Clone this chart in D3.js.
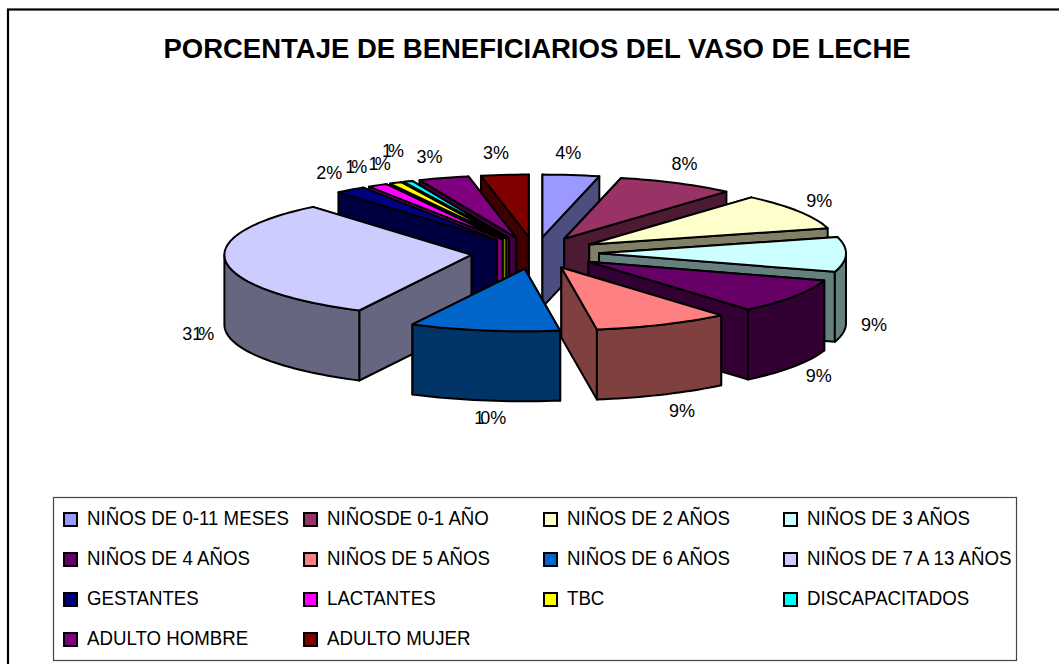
<!DOCTYPE html>
<html><head><meta charset="utf-8">
<script src="https://cdn.jsdelivr.net/npm/d3@7/dist/d3.min.js"></script>
<style>html,body{margin:0;padding:0;background:#fff;overflow:hidden}svg{display:block}text{font-family:"Liberation Sans",Arial,sans-serif;fill:#000}</style>
</head><body><svg id="c" width="1059" height="664"></svg>
<script>
const categories=["NIÑOS DE 0-11 MESES","NIÑOSDE 0-1 AÑO","NIÑOS DE 2 AÑOS","NIÑOS DE 3 AÑOS","NIÑOS DE 4 AÑOS","NIÑOS DE 5 AÑOS","NIÑOS DE 6 AÑOS","NIÑOS DE 7 A 13 AÑOS","GESTANTES","LACTANTES","TBC","DISCAPACITADOS","ADULTO HOMBRE","ADULTO MUJER"];
const values=[3.7,7.7,9.4,9,9,8.9,9.8,31.4,2.0,1.3,0.8,0.6,3.3,3.1];
const topColors=["#9999FF","#993366","#FFFFCC","#CCFFFF","#660066","#FF8080","#0066CC","#CCCCFF","#000080","#FF00FF","#FFFF00","#00FFFF","#800080","#800000"];
const title="PORCENTAJE DE BENEFICIARIOS DEL VASO DE LECHE";

const svg=d3.select("#c");
const cx=535,cy=253,rx=247,ry=62.5,depth=70,exX=64,exY=16;
const color=d3.scaleOrdinal(categories,topColors);
const dark=c=>{const r=d3.rgb(c);return d3.rgb(r.r/2,r.g/2,r.b/2).formatHex();};
const pie=d3.pie().sort(null).value(d=>d.v);
const arcs=pie(categories.map((n,i)=>({n,v:values[i]})));
const fmt=d3.format(".0%");
const total=d3.sum(values);

svg.append("rect").attr("x",8).attr("y",9.5).attr("width",1060).attr("height",670).attr("fill","#fff").attr("stroke","#000").attr("stroke-width",2.2);
svg.append("text").attr("x",537).attr("y",58).attr("text-anchor","middle").style("font-weight","bold").style("font-size","27.5px").text(title);

const pt=(a,t,dy=0)=>[a.ax+rx*Math.sin(t),a.ay-ry*Math.cos(t)+dy];
const path=d3.line();
arcs.forEach(a=>{a.mid=(a.startAngle+a.endAngle)/2;a.ax=cx+exX*Math.sin(a.mid);a.ay=cy-exY*Math.cos(a.mid);});
const order=arcs.slice().sort((p,q)=>Math.cos(q.mid)-Math.cos(p.mid));
const sample=(s,e)=>d3.range(0,1.0001,1/Math.max(2,Math.ceil((e-s)/0.03))).map(f=>s+(e-s)*f);
const stroke=(sel)=>sel.attr("stroke","#000").attr("stroke-width",2).attr("stroke-linejoin","round");
const g=svg.append("g");
order.forEach(a=>{
  const c=color(a.data.n),w=dark(c);
  const radials=[a.startAngle,a.endAngle].sort((p,q)=>Math.cos(q)-Math.cos(p));
  radials.forEach(t=>{
    const p=pt(a,t);
    stroke(g.append("path").attr("fill",w)).attr("d",path([[a.ax,a.ay],p,[p[0],p[1]+depth],[a.ax,a.ay+depth]])+"Z");
  });
  const s=Math.max(a.startAngle,Math.PI/2),e=Math.min(a.endAngle,Math.PI*1.5);
  if(e>s){
    const ts=sample(s,e);
    const pts=ts.map(t=>pt(a,t)).concat(ts.slice().reverse().map(t=>pt(a,t,depth)));
    stroke(g.append("path").attr("fill",w)).attr("d",path(pts)+"Z");
  }
  const top=[[a.ax,a.ay]].concat(sample(a.startAngle,a.endAngle).map(t=>pt(a,t)));
  stroke(g.append("path").attr("fill",c)).attr("d",path(top)+"Z");
});

// crowded thin-slice labels are pulled apart, as in the original
const crowd=new Map([["LACTANTES",[-2,0]],["TBC",[2,0]],["DISCAPACITADOS",[2,-11]]]);
arcs.forEach((a,i)=>{
  const co=Math.cos(a.mid),front=co<0;
  const [nx,ny]=crowd.get(a.data.n)||[0,0];
  const x=a.ax+275*Math.sin(a.mid)+(front?11*co*co*co*co:-6*co)+nx;
  const y=a.ay-(front?80:88)*co+(front?70:3)+ny;
  const t=svg.append("text").attr("x",x).attr("y",y+6.5).attr("text-anchor","middle").style("font-size","18px");
  fmt(values[i]/total).split("").forEach(ch=>{
    t.append("tspan").style("letter-spacing",ch==="1"?"-4px":"0").text(ch);
  });
});

const lg=svg.append("g");
lg.append("rect").attr("x",53.5).attr("y",497.5).attr("width",963).attr("height",163).attr("fill","#fff").attr("stroke","#444").attr("stroke-width",1.2);
const colX=d3.scalePoint().domain([0,1,2,3]).range([64,784]);
const rowY=d3.scalePoint().domain([0,1,2,3]).range([517,637]);
categories.forEach((n,i)=>{
  const x=colX(i%4),y=rowY(Math.floor(i/4));
  lg.append("rect").attr("x",x).attr("y",y-4).attr("width",13).attr("height",13).attr("fill",color(n)).attr("stroke","#000").attr("stroke-width",2);
  lg.append("text").attr("transform",`translate(${x+23},${y+7.5}) scale(0.89,1)`).style("font-size","21px").text(n);
});
</script></body></html>
